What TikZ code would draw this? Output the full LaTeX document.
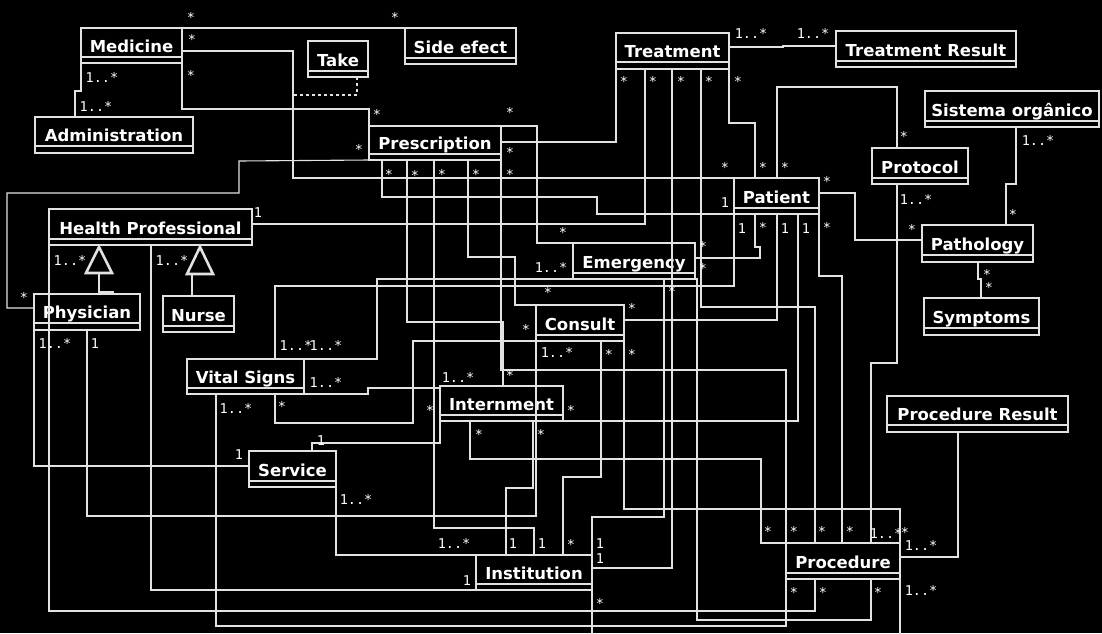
\documentclass[tikz,border=0pt]{standalone}
\usepackage{fontspec}
\newfontfamily\titlefont{DejaVu Sans}
\newfontfamily\multfont{DejaVu Sans Mono}
\usetikzlibrary{fit}
\definecolor{fg}{HTML}{E2E2E2}
\tikzset{
  ln/.style={draw=fg, line width=1.1pt},
  clsbox/.style={draw=fg, line width=1.1pt, inner sep=0pt, outer sep=0pt},
  ttl/.style={text=white, font=\titlefont\bfseries\fontsize{16.5}{19}\selectfont, inner sep=0pt, anchor=base},
  mult/.style={text=white, font=\multfont\fontsize{13.5}{16}\selectfont, inner sep=0pt, anchor=base},
  genline/.style={draw=fg, line width=2.6pt},
  dotline/.style={draw=fg, line width=1.1pt, dash pattern=on 3pt off 3pt},
}
\newcounter{lc}
\newcommand\umlclass[7]{%
  \node[clsbox, fit={(#2,#3) (#4,#5)}] (#1) {};
  \draw[ln] (#1.west |- 0,#6) -- (#1.east |- 0,#6);
  \node[ttl] (#1-t) at ({(#2+#4)/2},#6-5) {#7};
}
\newcommand\ml[3]{\stepcounter{lc}\node[mult] (m\arabic{lc}) at (#1,#2+5) {#3};}
\newcommand\st[2]{\stepcounter{lc}\node[mult] (m\arabic{lc}) at (#1,#2+7) {*};}
\begin{document}
\begin{tikzpicture}[x=1pt,y=-1pt]
\useasboundingbox (0,0) rectangle (1102,633);
\fill[black] (0,0) rectangle (1102,633);
\clip (0,0) rectangle (1102,633);

% classes
\umlclass{Medicine}{81}{28}{182}{63}{57}{Medicine}
\umlclass{Administration}{35}{117}{193}{153}{146}{Administration}
\umlclass{Take}{308}{41}{368}{77}{71}{Take}
\umlclass{SideEfect}{405}{28}{516}{64}{58}{Side efect}
\umlclass{Treatment}{616}{33}{729}{69}{62}{Treatment}
\umlclass{TreatmentResult}{836}{31}{1016}{67}{61}{Treatment Result}
\umlclass{Sistema}{925}{91}{1099}{127}{121}{Sistema orgânico}
\umlclass{Protocol}{872}{148}{968}{184}{178}{Protocol}
\umlclass{Patient}{734}{178}{819}{214}{208}{Patient}
\umlclass{Prescription}{369}{126}{501}{160}{154}{Prescription}
\umlclass{HP}{49}{209}{252}{245}{239}{Health Professional}
\umlclass{Physician}{34}{294}{140}{330}{323}{Physician}
\umlclass{Nurse}{163}{296}{234}{332}{326}{Nurse}
\umlclass{VitalSigns}{187}{359}{304}{394}{388}{Vital Signs}
\umlclass{Emergency}{573}{243}{695}{279}{273}{Emergency}
\umlclass{Consult}{536}{305}{624}{341}{335}{Consult}
\umlclass{Internment}{440}{386}{563}{421}{415}{Internment}
\umlclass{Service}{249}{451}{336}{487}{481}{Service}
\umlclass{Institution}{476}{555}{592}{590}{584}{Institution}
\umlclass{Procedure}{786}{543}{900}{579}{573}{Procedure}
\umlclass{Pathology}{922}{225}{1033}{262}{255}{Pathology}
\umlclass{Symptoms}{924}{298}{1039}{335}{328}{Symptoms}
\umlclass{ProcedureResult}{887}{396}{1068}{432}{425}{Procedure Result}

% generalizations
\draw[genline] (Physician.north -| 113,0) -- (113,292) -- (99,292) -- (99,273);
\draw[genline, fill=black] (HP.south -| 99,0) ++(0,2) -- (86,273) -- (112,273) -- cycle;
\draw[genline] (Nurse.north -| 192,0) -- (192,274);
\draw[genline, fill=black] (HP.south -| 200,0) ++(0,2) -- (187,274) -- (213,274) -- cycle;

% connectors
\draw[ln] (Medicine.north east) -- (SideEfect.north west);
\draw[ln] (Medicine.east |- 0,51) -- (293,51) -- (293,178) -- (Patient.north west);
\draw[ln] (Medicine.south east) -- (182,109) -- (369,109) -- (Prescription.north west);
\draw[ln] (Medicine.south west) -- (81,91) -- (75,91) -- (Administration.north -| 75,0);
\draw[dotline] (Take.south -| 357,0) -- (357,95) -- (293,95);
\draw[ln] (Physician.west |- 0,308) -- (7,308) -- (7,193) -- (239,193) -- (239,161) -- (Prescription.south west);
\draw[ln] (Prescription.south -| 382,0) -- (382,197) -- (597,197) -- (597,214) -- (Patient.south west);
\draw[ln] (Prescription.east |- 0,142) -- (616,142) -- (Treatment.south west);
\draw[ln] (Prescription.north east) -- (537,126) -- (537,243) -- (Emergency.north west);
\draw[ln] (Prescription.south -| 407,0) -- (407,322) -- (503,322) -- (Internment.north -| 503,0);
\draw[ln] (Prescription.south -| 434,0) -- (434,528) -- (534,528) -- (Institution.north -| 534,0);
\draw[ln] (Prescription.south -| 468,0) -- (468,257) -- (515,257) -- (515,305) -- (Consult.north west);
\draw[ln] (Prescription.south east) -- (501,370) -- (786,370) -- (Procedure.north west);
\draw[ln] (HP.east |- 0,224) -- (645,224) -- (Treatment.south -| 645,0);
\draw[ln] (Treatment.south -| 672,0) -- (672,568) -- (Institution.east |- 0,568);
\draw[ln] (Treatment.south -| 701,0) -- (701,307) -- (815,307) -- (Procedure.north -| 815,0);
\draw[ln] (Treatment.south east) -- (729,123) -- (755,123) -- (Patient.north -| 755,0);
\draw[ln] (Treatment.east |- 0,47) -- (783,47) -- (783,46) -- (TreatmentResult.west |- 0,46);
\draw[ln] (Patient.north -| 777,0) -- (777,87) -- (897,87) -- (Protocol.north -| 897,0);
\draw[ln] (Patient.east |- 0,193) -- (855,193) -- (855,240) -- (Pathology.west |- 0,240);
\draw[ln] (Patient.south west) -- (734,286) -- (275,286) -- (VitalSigns.north -| 275,0);
\draw[ln] (Patient.south -| 755,0) -- (755,247) -- (760,247) -- (760,258) -- (Emergency.east |- 0,258);
\draw[ln] (Patient.south -| 777,0) -- (777,320) -- (Consult.east |- 0,320);
\draw[ln] (Patient.south -| 798,0) -- (798,421) -- (Internment.south east);
\draw[ln] (Patient.south east) -- (819,276) -- (842,276) -- (Procedure.north -| 842,0);
\draw[ln] (VitalSigns.north east) -- (377,359) -- (377,279) -- (Emergency.south west);
\draw[ln] (Emergency.south east) -- (697,279) -- (697,620) -- (871,620) -- (Procedure.south -| 871,0);
\draw[ln] (Emergency.south -| 664,0) -- (664,517) -- (592,517) -- (Institution.north east);
\draw[ln] (VitalSigns.south east) -- (368,394) -- (368,388) -- (Internment.west |- 0,388);
\draw[ln] (VitalSigns.south -| 275,0) -- (275,423) -- (413,423) -- (413,341) -- (Consult.south west);
\draw[ln] (Physician.south -| 87,0) -- (87,516) -- (536,516) -- (Consult.south west);
\draw[ln] (Physician.south west) -- (34,466) -- (Service.west |- 0,466);
\draw[ln] (HP.south west) -- (49,611) -- (815,611) -- (Procedure.south -| 815,0);
\draw[ln] (HP.south -| 151,0) -- (151,590) -- (Institution.south west);
\draw[ln] (VitalSigns.south -| 216,0) -- (216,626) -- (786,626) -- (Procedure.south west);
\draw[ln] (Service.north -| 312,0) -- (312,443) -- (440,443) -- (Internment.south west);
\draw[ln] (Service.south east) -- (336,555) -- (Institution.north west);
\draw[ln] (Internment.south -| 470,0) -- (470,459) -- (761,459) -- (761,543) -- (Procedure.north west);
\draw[ln] (Internment.south -| 533,0) -- (533,488) -- (506,488) -- (Institution.north -| 506,0);
\draw[ln] (Consult.south -| 601,0) -- (601,477) -- (563,477) -- (Institution.north -| 563,0);
\draw[ln] (Consult.south east) -- (624,509) -- (900,509) -- (Procedure.north east);
\draw[ln] (Institution.south east) -- (592,645) -- (900,645) -- (Procedure.south east);
\draw[ln] (Protocol.south -| 897,0) -- (897,363) -- (871,363) -- (Procedure.north -| 871,0);
\draw[ln] (Sistema.south -| 1016,0) -- (1016,184) -- (1006,184) -- (Pathology.north -| 1006,0);
\draw[ln] (Pathology.south -| 978,0) -- (978,279) -- (981,279) -- (Symptoms.north -| 981,0);
\draw[ln] (ProcedureResult.south -| 958,0) -- (958,557) -- (Procedure.east |- 0,557);

% multiplicities
\st{191}{15} \st{395}{15}
\st{192}{37} \st{725}{165}
\st{191}{73} \st{377}{112}
\ml{102}{77}{1..*} \ml{96}{106}{1..*}
\st{24}{295} \st{359}{147}
\st{389}{172} \ml{725}{202}{1}
\st{510}{150} \st{624}{79}
\st{510}{110} \st{563}{230}
\st{415}{173} \st{510}{373}
\st{442}{172} \ml{542}{543}{1}
\st{476}{172} \st{548}{290}
\st{510}{172} \st{794}{529}
\ml{258}{212}{1} \st{653}{79}
\st{681}{79} \ml{600}{558}{1}
\st{709}{79} \st{822}{529}
\st{738}{79} \st{763}{165}
\ml{751}{33}{1..*} \ml{813}{33}{1..*}
\st{785}{165} \st{904}{134}
\st{827}{179} \st{912}{227}
\ml{742}{228}{1} \ml{296}{345}{1..*}
\st{763}{225} \st{703}{244}
\ml{785}{228}{1} \st{632}{306}
\ml{806}{228}{1} \st{571}{408}
\st{827}{225} \st{850}{529}
\ml{326}{345}{1..*} \ml{551}{267}{1..*}
\st{703}{266} \st{878}{590}
\st{672}{289} \ml{600}{543}{1}
\ml{326}{382}{1..*} \ml{458}{377}{1..*}
\st{282}{404} \st{526}{327}
\ml{95}{343}{1} \ml{557}{352}{1..*}
\ml{55}{343}{1..*} \ml{239}{454}{1}
\ml{70}{260}{1..*} \st{823}{590}
\ml{172}{260}{1..*} \ml{467}{580}{1}
\ml{236}{408}{1..*} \st{794}{590}
\ml{321}{440}{1} \st{430}{408}
\ml{356}{499}{1..*} \ml{454}{543}{1..*}
\st{479}{432} \st{768}{529}
\st{541}{432} \ml{513}{543}{1}
\st{609}{352} \st{571}{542}
\st{632}{352} \st{905}{530}
\st{600}{601} \ml{921}{590}{1..*}
\ml{916}{199}{1..*} \ml{886}{533}{1..*}
\ml{1038}{140}{1..*} \st{1013}{212}
\st{987}{272} \st{989}{285}
\ml{921}{545}{1..*}
\end{tikzpicture}
\end{document}
